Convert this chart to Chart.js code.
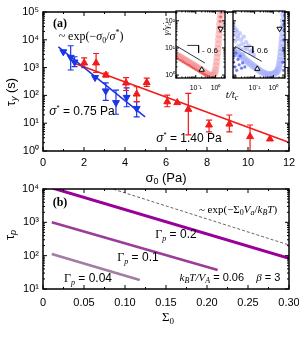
<!DOCTYPE html>
<html>
<head>
<meta charset="utf-8">
<script src="https://cdn.jsdelivr.net/npm/chart.js@4.4.1/dist/chart.umd.min.js"></script>
<style>
  html, body { margin: 0; padding: 0; background: #fff; }
  #wrap { position: relative; width: 299px; height: 360px; overflow: hidden; }
  #wrap canvas { position: absolute; }
</style>
</head>
<body>
<div id="wrap">
  <canvas id="chartA" width="299" height="190" style="left:0;top:0;width:299px;height:190px"></canvas>
  <canvas id="insetL" width="80" height="100" style="left:150px;top:0;width:80px;height:100px"></canvas>
  <canvas id="insetR" width="62" height="100" style="left:228px;top:0;width:62px;height:100px"></canvas>
  <canvas id="chartB" width="299" height="180" style="left:0;top:180px;width:299px;height:180px"></canvas>
</div>
<script>
// ---- panel (a): yield time vs stress ----
const blueStress = [0.99, 1.35, 1.54, 2.54, 3.06, 3.56, 4.08, 4.57];
const blueTau    = [3700, 2340, 1590, 440, 145, 55, 85, 34];
const blueTauLo  = [null, 820, 1080, null, 66, 21, 39, 17];
const blueTauHi  = [null, 6100, 2460, null, 280, 156, 185, 59];

const redStress = [2.01, 2.59, 3.07, 4.05, 4.57, 5.06, 6.06, 6.55, 7.09, 8.1, 9.09, 10.1, 11.07];
const redTau    = [1470, 1470, 540, 280, 112, 290, 59, 55, 31.6, 8.6, 9.3, 3.3, 2.7];
const redTauLo  = [995, 670, 460, 150, 60, 210, 39, null, 3.8, 4.9, 4.9, 0.9, null];
const redTauHi  = [2220, 3220, 640, 435, 205, 420, 103, null, 119, 13, 19.7, 8.6, null];

const blueFitStress = [0.75, 4.98];
const blueFitTau    = [5600, 17];
const redFitStress  = [1.56, 11.95];
const redFitTau     = [1410, 2.1];

// ---- inset: shear rate vs t/tc ----
const pinkT    = [0.010, 0.012, 0.014, 0.017, 0.020, 0.024, 0.028, 0.033, 0.039, 0.046, 0.055, 0.065, 0.077, 0.09, 0.105, 0.125, 0.15, 0.18, 0.22, 0.27, 0.33, 0.40, 0.48, 0.58, 0.70, 0.82, 0.92, 1.0, 1.07, 1.13, 1.19, 1.25, 1.31, 1.37, 1.43, 1.49, 1.55, 1.62, 1.70, 1.78];
const pinkRate = [5.6, 5.2, 4.9, 4.5, 4.2, 3.9, 3.6, 3.4, 3.1, 2.9, 2.7, 2.5, 2.3, 2.15, 2.0, 1.85, 1.7, 1.55, 1.42, 1.3, 1.18, 1.08, 1.0, 0.96, 0.96, 1.05, 1.25, 1.6, 2.2, 3.1, 4.5, 6.5, 9.5, 14, 21, 31, 48, 75, 115, 170];
const redDotT    = [0.010, 0.013, 0.017, 0.022, 0.028, 0.036, 0.046, 0.06, 0.077, 0.10, 0.13, 0.17, 0.22, 0.28, 0.36, 0.46, 1.6, 1.7, 1.8, 1.75, 1.9];
const redDotRate = [4.4, 3.9, 3.5, 3.1, 2.8, 2.5, 2.25, 2.0, 1.8, 1.6, 1.42, 1.28, 1.15, 1.05, 0.97, 0.9, 60, 95, 140, 40, 200];
const triUpL   = [0.20, 1.57];
const triDownL = [1.79, 51];
const slopeLT  = [0.0095, 0.29];
const slopeLY  = [12.4, 2.77];
const stepLT   = [0.037, 0.139, 0.139];
const stepLY   = [12.4, 12.4, 6.5];

const blueBandT    = [0.0072, 0.0095, 0.0125, 0.0155, 0.02, 0.027, 0.035, 0.046, 0.06, 0.08, 0.105, 0.14, 0.18, 0.24, 0.32, 0.42, 0.55, 0.72, 0.95, 1.25, 1.5, 1.73, 1.95, 2.15, 2.3, 2.45, 2.6, 2.75, 2.9, 3.05, 3.2, 3.35, 3.5, 3.7];
const blueBandRate = [8.3, 7.2, 6.3, 5.5, 4.8, 4.1, 3.5, 3.0, 2.6, 2.25, 1.95, 1.7, 1.5, 1.3, 1.17, 1.09, 1.05, 1.04, 1.08, 1.18, 1.3, 1.5, 1.9, 2.5, 3.4, 4.8, 7, 10, 15, 23, 36, 60, 100, 170];
const blueCloudT    = [0.0075, 0.008, 0.0085, 0.009, 0.010, 0.011, 0.012, 0.013, 0.014, 0.016, 0.018, 0.019, 0.022, 0.024, 0.026, 0.03, 0.035, 0.04, 0.05, 0.06, 0.07, 0.09];
const blueCloudRate = [80, 30, 55, 18, 40, 45, 22, 28, 12, 35, 9, 20, 14, 6, 26, 10, 16, 9, 12, 7, 8, 5.5];
const blueDarkT    = [0.0075, 0.008, 0.009, 0.010, 0.011, 0.013, 0.015, 0.017, 0.020, 0.023, 0.03, 3.2, 3.4, 3.6, 3.8, 3.9, 4.0, 3.5, 3.7];
const blueDarkRate = [3, 5, 2, 6.5, 1.5, 3.8, 2.4, 5, 1.8, 2.8, 2, 3, 8, 20, 45, 100, 160, 1.5, 70];
const triUpR   = [0.139, 1.7];
const triDownR = [2.15, 51];
const slopeRT  = [0.0089, 0.24];
const slopeRY  = [11.4, 3.2];
const stepRT   = [0.027, 0.080, 0.080];
const stepRY   = [11.4, 11.4, 6.5];

// ---- panel (b): model lifetimes ----
const sigmaG02  = [0.0126, 0.30];
const tauG02    = [10500, 83];
const sigmaG01  = [0.0107, 0.213];
const tauG01    = [1000, 37];
const sigmaG004 = [0.0107, 0.118];
const tauG004   = [112, 18.6];
const sigmaExp  = [0.08, 0.30];
const tauExp    = [10960, 209];

const SANS = '"Liberation Sans", Arial, sans-serif';
const SERIF = '"Liberation Serif", "Times New Roman", serif';
const BLUE = '#1a35e6';
const RED = '#f21a1a';
const SUP = { '0': '⁰', '1': '¹', '2': '²', '3': '³', '4': '⁴', '5': '⁵', '-': '⁻' };

const pts = (xs, ys) => xs.map((x, i) => ({ x, y: ys[i] }));

function powLabel(v, lo, hi) {
  const p = Math.log10(v), r = Math.round(p);
  if (Math.abs(p - r) > 1e-6 || r < lo || r > hi) return '';
  return '10' + String(r).split('').map(c => SUP[c]).join('');
}

function partFont(tok, size) {
  const small = tok.has('sub') || tok.has('sup');
  const s = small ? Math.round(size * 0.7) : size;
  return (tok.has('i') ? 'italic ' : '') + (tok.has('b') ? 'bold ' : '') + s + 'px ' + (tok.has('serif') ? SERIF : SANS);
}

function drawRich(ctx, parts, x, y, size, align) {
  const items = parts.map(([t, st]) => ({ t, tok: new Set((st || '').split(' ')) }));
  let w = 0;
  items.forEach(p => { ctx.font = partFont(p.tok, size); p.w = ctx.measureText(p.t).width; w += p.w; });
  let cx = align === 'center' ? x - w / 2 : align === 'right' ? x - w : x;
  ctx.textBaseline = 'middle';
  ctx.textAlign = 'left';
  items.forEach(p => {
    ctx.font = partFont(p.tok, size);
    const dy = p.tok.has('sub') ? size * 0.3 : p.tok.has('sup') ? -size * 0.35 : 0;
    ctx.fillText(p.t, cx, y + dy);
    cx += p.w;
  });
}

function textPlugin(items) {
  return {
    id: 'texts',
    afterDraw(chart) {
      const ctx = chart.ctx;
      ctx.save();
      ctx.fillStyle = '#000';
      items.forEach(it => {
        if (it.rot) {
          ctx.save();
          ctx.translate(it.x, it.y);
          ctx.rotate(-Math.PI / 2);
          drawRich(ctx, it.parts, 0, 0, it.size, 'center');
          ctx.restore();
        } else {
          drawRich(ctx, it.parts, it.x, it.y, it.size, it.align || 'center');
        }
      });
      ctx.restore();
    }
  };
}

function tickValues(scale) {
  const major = [], minor = [];
  if (scale.type === 'logarithmic') {
    const d0 = Math.floor(Math.log10(scale.min)), d1 = Math.ceil(Math.log10(scale.max));
    for (let d = d0; d <= d1; d++) {
      for (let k = 1; k < 10; k++) {
        const v = k * Math.pow(10, d);
        if (v < scale.min * 0.999 || v > scale.max * 1.001) continue;
        (k === 1 ? major : minor).push(v);
      }
    }
  } else {
    const t = scale.ticks.map(t => t.value);
    t.forEach((v, i) => { major.push(v); if (i < t.length - 1) minor.push((v + t[i + 1]) / 2); });
  }
  return { major, minor };
}

// box round the plot with inward ticks on all four sides
function framePlugin(lw, majLen, minLen) {
  return {
    id: 'frame',
    afterDatasetsDraw(chart) {
      const { ctx, chartArea: a, scales: { x, y } } = chart;
      ctx.save();
      ctx.strokeStyle = '#000';
      ctx.lineWidth = 1;
      ctx.beginPath();
      const tx = tickValues(x), ty = tickValues(y);
      [[tx.major, majLen], [tx.minor, minLen]].forEach(([vals, len]) => vals.forEach(v => {
        const px = x.getPixelForValue(v);
        ctx.moveTo(px, a.bottom); ctx.lineTo(px, a.bottom - len);
        ctx.moveTo(px, a.top); ctx.lineTo(px, a.top + len);
      }));
      [[ty.major, majLen], [ty.minor, minLen]].forEach(([vals, len]) => vals.forEach(v => {
        const py = y.getPixelForValue(v);
        ctx.moveTo(a.left, py); ctx.lineTo(a.left + len, py);
        ctx.moveTo(a.right, py); ctx.lineTo(a.right - len, py);
      }));
      ctx.stroke();
      ctx.lineWidth = lw;
      ctx.strokeRect(a.left, a.top, a.right - a.left, a.bottom - a.top);
      ctx.restore();
    }
  };
}

const errorBars = {
  id: 'errorBars',
  beforeDatasetsDraw(chart) {
    const { ctx, chartArea: a, scales: { x, y } } = chart;
    ctx.save();
    ctx.beginPath();
    ctx.rect(a.left, a.top, a.right - a.left, a.bottom - a.top);
    ctx.clip();
    chart.data.datasets.forEach(ds => {
      if (!ds.errLo) return;
      ctx.strokeStyle = ds.borderColor;
      ctx.lineWidth = 1.2;
      ds.data.forEach((p, i) => {
        if (ds.errLo[i] == null) return;
        const px = x.getPixelForValue(p.x);
        const y0 = y.getPixelForValue(ds.errLo[i]), y1 = y.getPixelForValue(ds.errHi[i]);
        ctx.beginPath();
        ctx.moveTo(px, y0); ctx.lineTo(px, y1);
        ctx.moveTo(px - 3, y0); ctx.lineTo(px + 3, y0);
        ctx.moveTo(px - 3, y1); ctx.lineTo(px + 3, y1);
        ctx.stroke();
      });
    });
    ctx.restore();
  }
};

const whiteArea = {
  id: 'whiteArea',
  beforeDraw(chart) {
    const a = chart.chartArea;
    chart.ctx.save();
    chart.ctx.fillStyle = '#fff';
    chart.ctx.fillRect(a.left, a.top, a.right - a.left, a.bottom - a.top);
    chart.ctx.restore();
  }
};

function xAxis(min, max, type, height, fontSize, pad, cb, extra) {
  return Object.assign({
    type, min, max,
    grid: { display: false, drawTicks: false },
    border: { display: false },
    ticks: { color: '#000', font: { family: SANS, size: fontSize }, padding: pad, autoSkip: false, maxRotation: 0, callback: cb },
    afterFit(s) { s.height = height; s.paddingLeft = 0; s.paddingRight = 0; }
  }, extra || {});
}
function yAxis(min, max, width, fontSize, pad, cb, show) {
  return {
    type: 'logarithmic', min, max, display: show,
    grid: { display: false, drawTicks: false },
    border: { display: false },
    ticks: { color: '#000', font: { family: SANS, size: fontSize }, padding: pad, autoSkip: false, callback: cb },
    afterFit(s) { s.width = width; s.paddingTop = 0; s.paddingBottom = 0; }
  };
}
const baseOpts = { responsive: false, animation: false, events: [] };

// ---- panel (a) ----
new Chart(document.getElementById('chartA'), {
  type: 'scatter',
  data: {
    datasets: [
      { data: pts(blueStress, blueTau), errLo: blueTauLo, errHi: blueTauHi, pointStyle: 'triangle', rotation: 180, pointRadius: 4, backgroundColor: BLUE, borderColor: BLUE, borderWidth: 1 },
      { data: pts(redStress, redTau), errLo: redTauLo, errHi: redTauHi, pointStyle: 'triangle', pointRadius: 4, backgroundColor: RED, borderColor: RED, borderWidth: 1 },
      { data: pts(blueFitStress, blueFitTau), showLine: true, pointRadius: 0, borderColor: BLUE, borderWidth: 1.5 },
      { data: pts(redFitStress, redFitTau), showLine: true, pointRadius: 0, borderColor: RED, borderWidth: 1.5 }
    ]
  },
  options: Object.assign({}, baseOpts, {
    layout: { padding: { left: 0, right: 10, top: 12, bottom: 0 } },
    plugins: { legend: { display: false }, tooltip: { enabled: false } },
    scales: {
      x: xAxis(0, 12, 'linear', 39, 11, 5, v => String(v), { ticks: { color: '#000', font: { family: SANS, size: 11 }, padding: 5, stepSize: 2, maxRotation: 0 } }),
      y: yAxis(1, 1e5, 43, 11, 4, v => powLabel(v, 0, 5), true)
    }
  }),
  plugins: [errorBars, framePlugin(1.5, 4, 2), textPlugin([
    { parts: [['(a)', 'serif b']], x: 60, y: 24, size: 12 },
    { parts: [['~ exp(−', 'serif'], ['σ', 'serif i'], ['0', 'serif sub'], ['/', 'serif'], ['σ', 'serif i'], ['*', 'serif sup'], [')', 'serif']], x: 91, y: 37, size: 12 },
    { parts: [['σ', 'i'], ['*', 'sup'], [' = 0.75 Pa', '']], x: 82, y: 112, size: 12 },
    { parts: [['σ', 'i'], ['*', 'sup'], [' = 1.40 Pa', '']], x: 189, y: 139, size: 12 },
    { parts: [['τ', ''], ['y', 'i sub'], [' (s)', '']], x: 11, y: 92, size: 13, rot: true },
    { parts: [['σ', ''], ['0', 'sub'], [' (Pa)', '']], x: 166, y: 178, size: 13 },
    { parts: [['t', 'serif i'], ['/', 'serif i'], ['t', 'serif i'], ['c', 'serif i sub']], x: 232, y: 95, size: 11 }
  ])]
});

// ---- inset, left half ----
new Chart(document.getElementById('insetL'), {
  type: 'scatter',
  data: {
    datasets: [
      { data: [{ x: triUpL[0], y: triUpL[1] }], pointStyle: 'triangle', pointRadius: 3, backgroundColor: '#fff', borderColor: '#000', borderWidth: 1 },
      { data: [{ x: triDownL[0], y: triDownL[1] }], pointStyle: 'triangle', rotation: 180, pointRadius: 3, backgroundColor: '#fff', borderColor: '#000', borderWidth: 1 },
      { data: pts(slopeLT, slopeLY), showLine: true, pointRadius: 0, borderColor: '#000', borderWidth: 0.8 },
      { data: pts(stepLT, stepLY), showLine: true, pointRadius: 0, borderColor: '#000', borderWidth: 0.8 },
      { data: pts(redDotT, redDotRate), pointRadius: 1.4, borderWidth: 0, backgroundColor: 'rgba(232,70,70,0.75)' },
      { data: pts(pinkT, pinkRate), pointRadius: 3.6, borderWidth: 0, backgroundColor: 'rgba(245,150,150,0.5)' }
    ]
  },
  options: Object.assign({}, baseOpts, {
    layout: { padding: { left: 0, right: 2, top: 11, bottom: 0 } },
    plugins: { legend: { display: false }, tooltip: { enabled: false } },
    scales: {
      x: xAxis(0.01, 3, 'logarithmic', 22, 7, 6, v => powLabel(v, -1, 0)),
      y: yAxis(0.78, 230, 26, 7, 1, v => powLabel(v, 0, 2), true)
    }
  }),
  plugins: [whiteArea, framePlugin(1.3, 3, 1.5), textPlugin([
    { parts: [['γ̇', 'serif i'], ['/', 'serif i'], ['γ̇', 'serif i'], ['c', 'serif i sub']], x: 17, y: 29, size: 9, rot: true },
    { parts: [['- 0.6', '']], x: 52, y: 51, size: 8, align: 'left' }
  ])]
});

// ---- inset, right half ----
new Chart(document.getElementById('insetR'), {
  type: 'scatter',
  data: {
    datasets: [
      { data: [{ x: triUpR[0], y: triUpR[1] }], pointStyle: 'triangle', pointRadius: 3, backgroundColor: '#fff', borderColor: '#000', borderWidth: 1 },
      { data: [{ x: triDownR[0], y: triDownR[1] }], pointStyle: 'triangle', rotation: 180, pointRadius: 3, backgroundColor: '#fff', borderColor: '#000', borderWidth: 1 },
      { data: pts(slopeRT, slopeRY), showLine: true, pointRadius: 0, borderColor: '#000', borderWidth: 0.8 },
      { data: pts(stepRT, stepRY), showLine: true, pointRadius: 0, borderColor: '#000', borderWidth: 0.8 },
      { data: pts(blueDarkT, blueDarkRate), pointRadius: 1.6, borderWidth: 0, backgroundColor: 'rgba(70,85,240,0.75)' },
      { data: pts(blueCloudT, blueCloudRate), pointRadius: 2.3, borderWidth: 0, backgroundColor: 'rgba(165,175,250,0.6)' },
      { data: pts(blueBandT, blueBandRate), pointRadius: 3.6, borderWidth: 0, backgroundColor: 'rgba(160,170,250,0.55)' }
    ]
  },
  options: Object.assign({}, baseOpts, {
    layout: { padding: { left: 0, right: 4, top: 11, bottom: 0 } },
    plugins: { legend: { display: false }, tooltip: { enabled: false } },
    scales: {
      x: xAxis(0.007, 4.2, 'logarithmic', 22, 7, 6, v => powLabel(v, -1, 0)),
      y: yAxis(0.78, 230, 0, 7, 1, () => '', false)
    }
  }),
  plugins: [whiteArea, framePlugin(1.3, 3, 1.5), textPlugin([
    { parts: [['- 0.6', '']], x: 24, y: 51, size: 8, align: 'left' }
  ])]
});

// ---- panel (b) ----
new Chart(document.getElementById('chartB'), {
  type: 'scatter',
  data: {
    datasets: [
      { data: pts(sigmaG02, tauG02), showLine: true, pointRadius: 0, borderColor: '#990099', borderWidth: 3 },
      { data: pts(sigmaG01, tauG01), showLine: true, pointRadius: 0, borderColor: '#9a3d9a', borderWidth: 2.6 },
      { data: pts(sigmaG004, tauG004), showLine: true, pointRadius: 0, borderColor: '#a27ca2', borderWidth: 2.6 },
      { data: pts(sigmaExp, tauExp), showLine: true, pointRadius: 0, borderColor: '#555', borderWidth: 0.9, borderDash: [3, 2] }
    ]
  },
  options: Object.assign({}, baseOpts, {
    layout: { padding: { left: 0, right: 10, top: 9, bottom: 0 } },
    plugins: { legend: { display: false }, tooltip: { enabled: false } },
    scales: {
      x: xAxis(0, 0.3, 'linear', 71, 11, 7, v => v === 0 ? '0' : Number(v).toFixed(2), { ticks: { color: '#000', font: { family: SANS, size: 11 }, padding: 7, stepSize: 0.05, maxRotation: 0, callback: v => v === 0 ? '0' : Number(v).toFixed(2) } }),
      y: yAxis(10, 1e4, 43, 11, 4, v => powLabel(v, 1, 4), true)
    }
  }),
  plugins: [framePlugin(1.5, 4, 2), textPlugin([
    { parts: [['(b)', 'serif b']], x: 60, y: 23, size: 12 },
    { parts: [['~ exp(−', 'serif'], ['Σ', 'serif'], ['0', 'serif sub'], ['V', 'serif i'], ['a', 'serif i sub'], ['/', 'serif'], ['k', 'serif i'], ['B', 'serif i sub'], ['T', 'serif i'], [')', 'serif']], x: 238, y: 30, size: 11 },
    { parts: [['Γ', 'serif'], ['p', 'serif i sub'], [' = 0.2', '']], x: 176, y: 55, size: 12 },
    { parts: [['Γ', 'serif'], ['p', 'serif i sub'], [' = 0.1', '']], x: 138, y: 78, size: 12 },
    { parts: [['Γ', 'serif'], ['p', 'serif i sub'], [' = 0.04', '']], x: 88, y: 99, size: 12 },
    { parts: [['k', 'serif i'], ['B', 'serif i sub'], ['T/V', 'serif i'], ['A', 'serif i sub'], [' = 0.06    ', ''], ['β', 'serif i'], [' = 3', '']], x: 230, y: 98, size: 11 },
    { parts: [['τ', ''], ['p', 'i sub']], x: 10, y: 55, size: 13, rot: true },
    { parts: [['Σ', 'serif'], ['0', 'serif sub']], x: 168, y: 138, size: 13 }
  ])]
});
</script>
</body>
</html>
